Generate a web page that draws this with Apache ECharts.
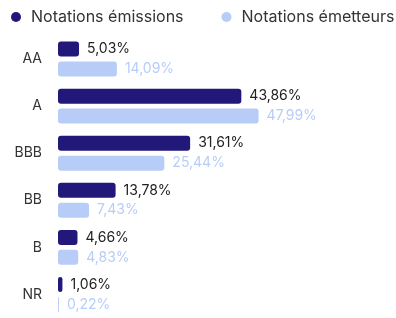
<!DOCTYPE html>
<html lang="fr">
	<head>
		<meta charset="UTF-8" />
		<title>Notations</title>
		<style>
			html, body { margin: 0; padding: 0; background: #fff; }
		</style>
	</head>
	<body>
		<div id="main" style="width: 396px; height: 318px"></div>
		<script src="https://cdn.jsdelivr.net/npm/echarts@6/dist/echarts.min.js"></script>
		<script>
			// données
			var categories = ["AA", "A", "BBB", "BB", "B", "NR"];
			var emissions = [5.03, 43.86, 31.61, 13.78, 4.66, 1.06];
			var emetteurs = [14.09, 47.99, 25.44, 7.43, 4.83, 0.22];
			var seriesNames = ["Notations émissions", "Notations émetteurs"];

			var darkColor = "#21187a";
			var lightColor = "#b7cdf8";
			var font = "Inter";

			function fmt(p) {
				return p.value.toFixed(2).replace(".", ",") + "%";
			}

			var myChart = echarts.init(document.getElementById("main"));

			var option = {
				animation: false,
				legend: {
					left: 11,
					top: 9,
					width: 390,
					padding: 0,
					icon: "circle",
					itemWidth: 10,
					itemHeight: 10,
					itemGap: 38,
					textStyle: { fontFamily: font, fontSize: 16, color: "#333", padding: [0, 0, 0, 5] },
					data: seriesNames,
				},
				grid: { left: 58, top: 35.5, width: 209, height: 288 },
				xAxis: {
					type: "value",
					min: 0,
					max: 50,
					show: false,
				},
				yAxis: {
					type: "category",
					inverse: true,
					data: categories,
					axisLine: { show: false },
					axisTick: { show: false },
					axisLabel: { margin: 16, fontFamily: font, fontSize: 14, color: "#333" },
				},
				series: [
					{
						name: seriesNames[0],
						type: "bar",
						data: emissions,
						barWidth: 15,
						barGap: "33%",
						itemStyle: { color: darkColor, borderRadius: 3 },
						label: {
							show: true,
							position: "right",
							distance: 8,
							formatter: fmt,
							fontFamily: font,
							fontSize: 14,
							color: "#222",
						},
					},
					{
						name: seriesNames[1],
						type: "bar",
						data: emetteurs,
						barWidth: 15,
						itemStyle: { color: lightColor, borderRadius: 3 },
						label: {
							show: true,
							position: "right",
							distance: 8,
							formatter: fmt,
							fontFamily: font,
							fontSize: 14,
							color: lightColor,
						},
					},
				],
			};

			myChart.setOption(option);
		</script>
	</body>
</html>
